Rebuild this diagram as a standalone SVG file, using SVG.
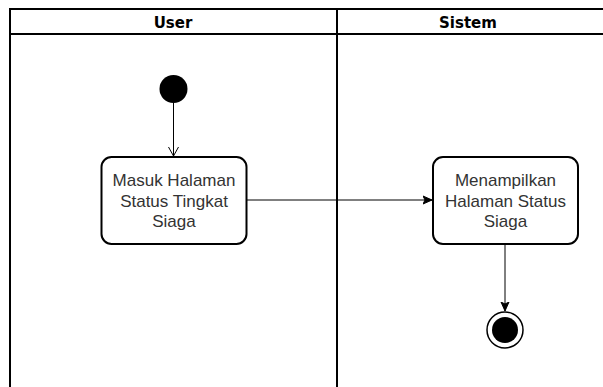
<svg xmlns="http://www.w3.org/2000/svg" width="603" height="387" viewBox="0 0 603 387">
<style>
.lane{fill:none;stroke:#000;stroke-width:2}
.hdr{font-family:"DejaVu Sans","Liberation Sans",sans-serif;font-size:15px;font-weight:bold;fill:#000;text-anchor:middle}
.act{fill:#fff;stroke:#000;stroke-width:2}
.lbl{font-family:"Liberation Sans",Arial,sans-serif;font-size:17px;fill:#333;text-anchor:middle}
.edge{fill:none;stroke:#000;stroke-width:1}
</style>
<defs>
<marker id="open" markerWidth="12" markerHeight="12" refX="10" refY="6" orient="auto" markerUnits="userSpaceOnUse">
<path d="M1,1 L10,6 L1,11" fill="none" stroke="#000" stroke-width="1"/>
</marker>
<marker id="block" markerWidth="10" markerHeight="10" refX="9" refY="5" orient="auto" markerUnits="userSpaceOnUse">
<path d="M0,1 L9,5 L0,9 L2,5 Z" fill="#000" stroke="#000" stroke-width="1"/>
</marker>
</defs>
<g id="pool">
<path class="lane" d="M10,387 V9 H603"/>
<line class="lane" x1="10" y1="34" x2="603" y2="34"/>
<line class="lane" x1="337" y1="9" x2="337" y2="387"/>
<text class="hdr" x="173" y="28">User</text>
<text class="hdr" x="468" y="28">Sistem</text>
</g>
<g id="edges">
<line class="edge" x1="173.5" y1="103" x2="173.5" y2="156" marker-end="url(#open)"/>
<line class="edge" x1="247" y1="200" x2="432" y2="200" marker-end="url(#block)"/>
<line class="edge" x1="505" y1="245" x2="505" y2="311" marker-end="url(#block)"/>
</g>
<g id="start">
<circle cx="173.5" cy="89" r="14" fill="#000"/>
</g>
<g id="masuk">
<rect class="act" x="101.5" y="157" width="145" height="87" rx="10"/>
<text class="lbl" x="174" y="186">Masuk Halaman</text>
<text class="lbl" x="174" y="206.5">Status Tingkat</text>
<text class="lbl" x="174" y="227">Siaga</text>
</g>
<g id="menampilkan">
<rect class="act" x="433" y="157" width="145" height="87" rx="10"/>
<text class="lbl" x="505.5" y="186">Menampilkan</text>
<text class="lbl" x="505.5" y="206.5">Halaman Status</text>
<text class="lbl" x="505.5" y="227">Siaga</text>
</g>
<g id="end">
<circle cx="505" cy="330" r="18" fill="#fff" stroke="#000" stroke-width="1.5"/>
<circle cx="505" cy="330" r="13" fill="#000"/>
</g>
</svg>
